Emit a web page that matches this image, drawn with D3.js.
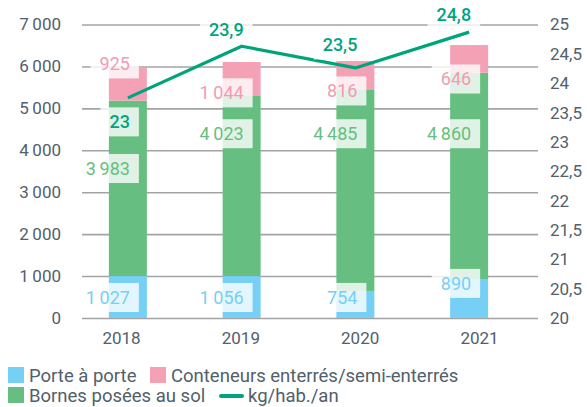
<!DOCTYPE html>
<html>
<head>
<meta charset="utf-8">
<script src="https://cdn.jsdelivr.net/npm/d3@7"></script>
<style>
  body { margin: 0; background: #fff; }
  svg text { font-family: Roboto, "Noto Sans", sans-serif; }
</style>
</head>
<body>
<div id="chart"></div>
<script>
// printed values
const years = ["2018", "2019", "2020", "2021"];
const porteLabels = [1027, 1056, 754, 890];
const bornesLabels = [3983, 4023, 4485, 4860];
const conteneursLabels = [925, 1044, 816, 646];
const kgLabels = [23, 23.9, 23.5, 24.8];

// heights as they are drawn in the picture (do not add up to the printed values)
const porte = [1000, 1000, 645, 930];
const bornes = [4185, 4295, 4810, 4920];
const conteneurs = [785, 810, 675, 660];
const kgHab = [23.75, 24.63, 24.26, 24.87];

const leftTicks = [0, 1000, 2000, 3000, 4000, 5000, 6000, 7000];
const rightTicks = [20, 20.5, 21, 21.5, 22, 22.5, 23, 23.5, 24, 24.5, 25];

const width = 587, height = 407;
const grey = "#51606b";
const cBlue = "#76cff5", cGreen = "#66bf80", cPink = "#f4a1b6", cLine = "#00a47a";

const fr = d3.formatLocale({ decimal: ",", thousands: "\u2009", grouping: [3], currency: ["", " €"] });
const fmtInt = fr.format(",");
const fmtDec = fr.format("~g");

const svg = d3.select("#chart").append("svg")
  .attr("width", width)
  .attr("height", height);

const x0 = 82, x1 = 538, yBase = 318, yTop = 24.5;

const x = d3.scaleBand().domain(years).range([71, 526]).paddingInner(0.666).paddingOuter(0.333);
const xLab = d3.scalePoint().domain(years).range([121, 479]);
const yL = d3.scaleLinear().domain([0, 7000]).range([yBase, yTop]);
const yR = d3.scaleLinear().domain([20, 25]).range([yBase, yTop]);

// grid + left axis
const gl = svg.append("g")
  .attr("transform", `translate(${x0},0)`)
  .call(d3.axisLeft(yL).tickValues(leftTicks).tickFormat(fmtInt).tickSize(-(x1 - x0)).tickPadding(21));
gl.select(".domain").remove();
gl.selectAll(".tick line").attr("stroke", "#a3a3a3").attr("stroke-width", 1.6);
gl.selectAll(".tick text").attr("fill", grey).style("font-size", "17px");

// right axis
const gr = svg.append("g")
  .attr("transform", `translate(${x1},0)`)
  .call(d3.axisRight(yR).tickValues(rightTicks).tickFormat(fmtDec).tickSize(0).tickPadding(12));
gr.select(".domain").remove();
gr.selectAll(".tick text").attr("fill", grey).style("font-size", "17px");

// year labels
const gx = svg.append("g")
  .attr("transform", `translate(0,${yBase})`)
  .call(d3.axisBottom(xLab).tickSize(0).tickPadding(14));
gx.select(".domain").remove();
gx.selectAll(".tick text").attr("fill", grey).style("font-size", "17px");

// stacked bars
const rows = years.map((y, i) => ({ year: y, porte: porte[i], bornes: bornes[i], conteneurs: conteneurs[i] }));
const keys = ["porte", "bornes", "conteneurs"];
const colors = { porte: cBlue, bornes: cGreen, conteneurs: cPink };
const stack = d3.stack().keys(keys)(rows);

svg.append("g").selectAll("g")
  .data(stack)
  .join("g")
  .attr("fill", d => colors[d.key])
  .selectAll("rect")
  .data(d => d)
  .join("rect")
  .attr("x", d => x(d.data.year))
  .attr("width", x.bandwidth())
  .attr("y", d => yL(d[1]))
  .attr("height", d => yL(d[0]) - yL(d[1]));

// line
const line = d3.line()
  .x((d, i) => x(years[i]) + x.bandwidth() / 2)
  .y(d => yR(d));

svg.append("path")
  .datum(kgHab)
  .attr("d", line)
  .attr("fill", "none")
  .attr("stroke", cLine)
  .attr("stroke-width", 3.2)
  .attr("stroke-linejoin", "round");

// value labels with translucent white boxes
// where each label sits, in left-axis units
const labelSets = [
  { values: conteneursLabels, at: [6060, 5370, 5415, 5700], color: "#f49ab2" },
  { values: bornesLabels, at: [3565, 4395, 4395, 4395], color: cGreen },
  { values: porteLabels, at: [490, 490, 490, 825], color: cBlue }
];

function boxedLabel(cx, cy, txt, color, weight) {
  const g = svg.append("g");
  const rect = g.append("rect").attr("fill", "#fff").attr("opacity", 0.8);
  const t = g.append("text")
    .attr("x", cx + 2)
    .attr("y", cy)
    .attr("dy", "0.35em")
    .attr("text-anchor", "end")
    .attr("fill", color)
    .style("font-size", "18px")
    .style("font-weight", weight)
    .text(txt);
  const bb = t.node().getBBox();
  const left = Math.min(bb.x - 9, cx - 19);
  rect.attr("x", left).attr("y", cy - 14.5).attr("width", cx + 11 - left).attr("height", 29);
}

labelSets.forEach(s => {
  s.values.forEach((v, i) => {
    const cx = x(years[i]) + x.bandwidth() / 2;
    boxedLabel(cx, yL(s.at[i]), fmtInt(v), s.color, 400);
  });
});

const lineDy = [24, -17, -23, -17];
kgLabels.forEach((v, i) => {
  const cx = x(years[i]) + x.bandwidth() / 2;
  boxedLabel(cx, yR(kgHab[i]) + lineDy[i], fmtDec(v), cLine, 500);
});

// legend
const legend = svg.append("g").style("font-size", "18.5px");
const items = [
  { name: "Porte à porte", color: cBlue, x: 8, y: 367 },
  { name: "Conteneurs enterrés/semi-enterrés", color: cPink, x: 150, y: 367 },
  { name: "Bornes posées au sol", color: cGreen, x: 8, y: 387 }
];
items.forEach(it => {
  legend.append("rect").attr("x", it.x).attr("y", it.y).attr("width", 16).attr("height", 16).attr("fill", it.color);
  legend.append("text").attr("x", it.x + 21).attr("y", it.y + 14.5).attr("fill", grey).text(it.name);
});
legend.append("line")
  .attr("x1", 221).attr("x2", 242).attr("y1", 396).attr("y2", 396)
  .attr("stroke", cLine).attr("stroke-width", 4).attr("stroke-linecap", "round");
legend.append("text").attr("x", 248).attr("y", 401.5).attr("fill", grey).text("kg/hab./an");
</script>
</body>
</html>
